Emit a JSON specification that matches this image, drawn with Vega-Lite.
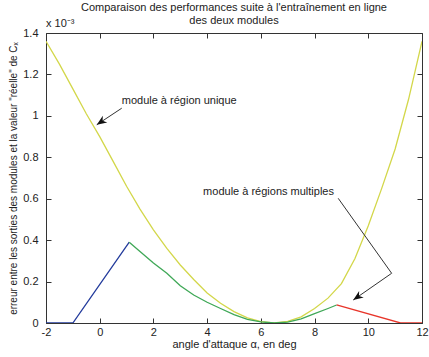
{
  "$schema": "https://vega.github.io/schema/vega-lite/v6.json",
  "width": 376,
  "height": 290,
  "autosize": {"type": "none"},
  "padding": {"left": 46, "top": 33, "right": 7, "bottom": 34},
  "background": "white",
  "title": {
    "text": ["Comparaison des performances suite à l'entraînement en ligne", "des deux modules"],
    "font": "Liberation Sans",
    "fontSize": 11,
    "fontWeight": "normal",
    "color": "#222",
    "anchor": "middle",
    "offset": 7,
    "dy": 15,
    "lineHeight": 13
  },
  "config": {
    "view": {"stroke": "#333", "strokeWidth": 1},
    "axis": {
      "grid": false,
      "domain": false,
      "labelFont": "Liberation Sans",
      "labelFontSize": 11,
      "labelColor": "#222",
      "titleFont": "Liberation Sans",
      "titleFontWeight": "normal",
      "titleColor": "#222",
      "tickColor": "#333",
      "tickSize": -5
    }
  },
  "datasets": {
    "curves": [
      {"serie": "unique", "x": -2, "y": 1.36},
      {"serie": "unique", "x": -1.5, "y": 1.25},
      {"serie": "unique", "x": -1, "y": 1.13},
      {"serie": "unique", "x": -0.5, "y": 1.01},
      {"serie": "unique", "x": 0, "y": 0.9},
      {"serie": "unique", "x": 0.5, "y": 0.78},
      {"serie": "unique", "x": 1, "y": 0.66},
      {"serie": "unique", "x": 1.5, "y": 0.55},
      {"serie": "unique", "x": 2, "y": 0.45},
      {"serie": "unique", "x": 2.5, "y": 0.36},
      {"serie": "unique", "x": 3, "y": 0.28},
      {"serie": "unique", "x": 3.5, "y": 0.21},
      {"serie": "unique", "x": 4, "y": 0.145},
      {"serie": "unique", "x": 4.5, "y": 0.095},
      {"serie": "unique", "x": 5, "y": 0.055},
      {"serie": "unique", "x": 5.5, "y": 0.025},
      {"serie": "unique", "x": 6, "y": 0.007},
      {"serie": "unique", "x": 6.5, "y": 0},
      {"serie": "unique", "x": 7, "y": 0.008},
      {"serie": "unique", "x": 7.5, "y": 0.03},
      {"serie": "unique", "x": 8, "y": 0.07},
      {"serie": "unique", "x": 8.5, "y": 0.12},
      {"serie": "unique", "x": 9, "y": 0.19},
      {"serie": "unique", "x": 9.5, "y": 0.31},
      {"serie": "unique", "x": 10, "y": 0.47},
      {"serie": "unique", "x": 10.5, "y": 0.65},
      {"serie": "unique", "x": 11, "y": 0.84},
      {"serie": "unique", "x": 11.5, "y": 1.08},
      {"serie": "unique", "x": 12, "y": 1.36},
      {"serie": "bleu", "x": -2, "y": 0},
      {"serie": "bleu", "x": -1, "y": 0},
      {"serie": "bleu", "x": 1.1, "y": 0.39},
      {"serie": "vert", "x": 1.1, "y": 0.39},
      {"serie": "vert", "x": 1.5, "y": 0.345},
      {"serie": "vert", "x": 2, "y": 0.29},
      {"serie": "vert", "x": 2.5, "y": 0.24},
      {"serie": "vert", "x": 3, "y": 0.18},
      {"serie": "vert", "x": 3.5, "y": 0.135},
      {"serie": "vert", "x": 4, "y": 0.1},
      {"serie": "vert", "x": 4.5, "y": 0.07},
      {"serie": "vert", "x": 5, "y": 0.04},
      {"serie": "vert", "x": 5.5, "y": 0.018},
      {"serie": "vert", "x": 6, "y": 0.005},
      {"serie": "vert", "x": 6.5, "y": 0},
      {"serie": "vert", "x": 7, "y": 0.004},
      {"serie": "vert", "x": 7.5, "y": 0.02},
      {"serie": "vert", "x": 8, "y": 0.045},
      {"serie": "vert", "x": 8.5, "y": 0.07},
      {"serie": "vert", "x": 8.82, "y": 0.087},
      {"serie": "rouge", "x": 8.82, "y": 0.087},
      {"serie": "rouge", "x": 11.2, "y": 0},
      {"serie": "rouge", "x": 12, "y": 0}
    ],
    "labels": [
      {"x": 0.82, "y": 1.07, "t": "module à région unique"},
      {"x": 3.85, "y": 0.631, "t": "module à régions multiples"}
    ],
    "segments": [
      {"x": 0.82, "y": 1.037, "x2": -0.11, "y2": 0.957},
      {"x": 8.88, "y": 0.602, "x2": 10.87, "y2": 0.24},
      {"x": 10.87, "y": 0.24, "x2": 9.44, "y2": 0.111}
    ],
    "heads": [
      {"x": -0.11, "y": 0.957, "a": 236},
      {"x": 9.44, "y": 0.111, "a": 235}
    ],
    "exp": [
      {"x": -2, "y": 1.4, "t": "x 10⁻³"}
    ]
  },
  "layer": [
    {
      "data": {"name": "curves"},
      "mark": {"type": "line", "strokeWidth": 1.3, "clip": true},
      "encoding": {
        "x": {
          "field": "x", "type": "quantitative",
          "scale": {"domain": [-2, 12], "nice": false, "zero": false},
          "axis": {
            "orient": "bottom",
            "values": [-2, 0, 2, 4, 6, 8, 10, 12],
            "labelExpr": "'' + datum.value",
            "labelPadding": 8,
            "labelFlush": false,
            "title": "angle d'attaque α, en deg",
            "titleFontSize": 11,
            "titlePadding": 1
          }
        },
        "y": {
          "field": "y", "type": "quantitative",
          "scale": {"domain": [0, 1.4], "nice": false},
          "axis": {
            "orient": "left",
            "values": [0, 0.2, 0.4, 0.6, 0.8, 1, 1.2, 1.4],
            "labelExpr": "'' + datum.value",
            "labelPadding": 13,
            "labelFlush": false,
            "title": "erreur entre les sorties des modules et la valeur \"réelle\" de Cₓ",
            "titleFontSize": 10,
            "titlePadding": 4
          }
        },
        "color": {
          "field": "serie", "type": "nominal",
          "scale": {"domain": ["unique", "bleu", "vert", "rouge"], "range": ["#d3d74a", "#233b9c", "#3fa857", "#e8352a"]},
          "legend": null
        },
        "detail": {"field": "serie"}
      }
    },
    {
      "data": {"name": "curves"},
      "mark": {"type": "line", "opacity": 0},
      "encoding": {
        "x": {
          "field": "x", "type": "quantitative",
          "axis": {"orient": "top", "values": [-2, 0, 2, 4, 6, 8, 10, 12], "labels": false, "title": null}
        },
        "y": {
          "field": "y", "type": "quantitative",
          "axis": {"orient": "right", "values": [0, 0.2, 0.4, 0.6, 0.8, 1, 1.2, 1.4], "labels": false, "title": null}
        },
        "detail": {"field": "serie"}
      }
    },
    {
      "data": {"name": "segments"},
      "mark": {"type": "rule", "color": "#333", "strokeWidth": 1},
      "encoding": {
        "x": {"field": "x", "type": "quantitative", "axis": null},
        "y": {"field": "y", "type": "quantitative", "axis": null},
        "x2": {"field": "x2"},
        "y2": {"field": "y2"}
      }
    },
    {
      "data": {"name": "heads"},
      "mark": {"type": "point", "shape": "M0,0L-0.8,2L0,1.4L0.8,2Z", "filled": true, "color": "#111", "opacity": 1, "size": 100},
      "encoding": {
        "x": {"field": "x", "type": "quantitative", "axis": null},
        "y": {"field": "y", "type": "quantitative", "axis": null},
        "angle": {"field": "a", "type": "quantitative", "scale": null}
      }
    },
    {
      "data": {"name": "labels"},
      "mark": {"type": "text", "align": "left", "baseline": "middle", "font": "Liberation Sans", "fontSize": 11, "color": "#222"},
      "encoding": {
        "x": {"field": "x", "type": "quantitative", "axis": null},
        "y": {"field": "y", "type": "quantitative", "axis": null},
        "text": {"field": "t"}
      }
    },
    {
      "data": {"name": "exp"},
      "mark": {"type": "text", "align": "left", "baseline": "alphabetic", "dy": -6, "font": "Liberation Sans", "fontSize": 11, "color": "#222", "clip": false},
      "encoding": {
        "x": {"field": "x", "type": "quantitative", "axis": null},
        "y": {"field": "y", "type": "quantitative", "axis": null},
        "text": {"field": "t"}
      }
    }
  ],
  "resolve": {"axis": {"x": "independent", "y": "independent"}}
}
